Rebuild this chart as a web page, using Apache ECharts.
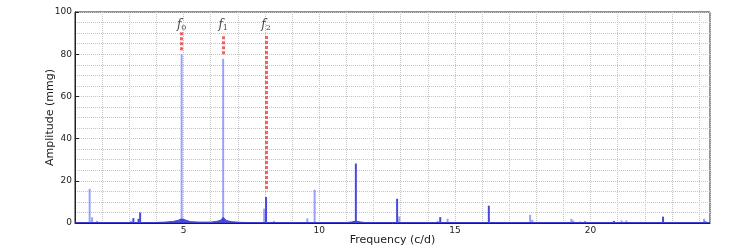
<!DOCTYPE html>
<html>
<head>
<meta charset="utf-8">
<script src="https://cdn.jsdelivr.net/npm/echarts@6/dist/echarts.min.js"></script>
<style>
    html, body { margin: 0; padding: 0; background: #fff; }
    #chart { width: 747px; height: 249px; }
</style>
</head>
<body>
<div id="chart"></div>
<script>
// light (lavender) peaks: frequency (c/d), amplitude (mmg)
const lightFreq = [1.54, 1.63, 1.81, 1.90, 3.06, 4.93, 6.46, 7.97, 8.33, 9.56, 9.83, 12.95, 14.37, 14.73, 17.77, 17.85, 19.29, 19.36, 21.14, 21.32, 24.18]
const lightAmp = [16.2, 2.7, 1.0, 0.6, 1.0, 80.0, 77.8, 6.8, 1.0, 2.2, 15.8, 3.1, 1.0, 2.0, 3.9, 1.5, 2.0, 1.2, 1.2, 1.2, 2.0]

// dark blue peaks
const darkFreq = [3.15, 3.34, 3.40, 8.04, 11.35, 12.87, 14.46, 16.25, 19.61, 19.80, 20.86, 22.67, 23.11, 24.23]
const darkAmp = [2.3, 2.0, 5.0, 12.3, 28.2, 11.5, 2.8, 8.2, 0.6, 0.8, 1.0, 3.0, 0.5, 0.8]

// low noise floor with the humps around f0, f1
const noiseFreq = [1.0, 3.9, 4.3, 4.6, 4.8, 4.88, 4.93, 4.98, 5.05, 5.25, 5.6, 6.0, 6.2, 6.35, 6.42, 6.46, 6.5, 6.58, 6.75, 7.1, 7.5, 11.0, 11.2, 11.35, 11.5, 11.7, 24.4]
const noiseAmp = [0.2, 0.2, 0.4, 0.7, 1.2, 1.8, 2.6, 1.8, 1.2, 0.6, 0.4, 0.4, 0.7, 1.2, 1.8, 2.6, 1.8, 1.2, 0.6, 0.3, 0.2, 0.2, 0.5, 0.9, 0.5, 0.2, 0.2]

// marked frequencies
const markNames = ['0', '1', '2']
const markFreq = [4.93, 6.46, 8.04]
const markTop = [90.4, 88.5, 88.6]
const markBottom = [81.0, 79.5, 15.0]
const markLabelY = 93.8

const zip = (a, b) => a.map((v, i) => [v, b[i]])

const chart = echarts.init(document.getElementById('chart'))

const font = 'DejaVu Sans'
const gridLine = { color: '#c4c4c4', type: 'dotted', width: 1 }

const option = {
    animation: false,
    grid: {
        left: 75, right: 37, top: 12, bottom: 26,
        outerBoundsMode: 'none',
        show: true,
        borderColor: '#222',
        borderWidth: 1
    },
    xAxis: {
        type: 'value',
        min: 1,
        max: 24.4,
        interval: 1,
        name: 'Frequency (c/d)',
        nameLocation: 'middle',
        nameGap: 12,
        nameMoveOverlap: false,
        nameTextStyle: { fontFamily: font, fontSize: 11, color: '#222' },
        axisLine: { lineStyle: { color: '#222' } },
        axisTick: { show: false },
        axisLabel: {
            fontFamily: font, fontSize: 9, color: '#222', margin: 3,
            showMinLabel: false, showMaxLabel: false,
            formatter: (v) => (Math.abs(v % 5) < 1e-6 ? String(v) : '')
        },
        splitLine: { show: true, lineStyle: gridLine }
    },
    yAxis: {
        type: 'value',
        min: 0,
        max: 100,
        interval: 20,
        name: 'Amplitude (mmg)',
        nameLocation: 'middle',
        nameGap: 19,
        nameMoveOverlap: false,
        nameTextStyle: { fontFamily: font, fontSize: 11, color: '#222' },
        axisLine: { show: true, lineStyle: { color: '#222' } },
        axisTick: { show: true, inside: true, length: 4, lineStyle: { color: '#222' } },
        axisLabel: { fontFamily: font, fontSize: 9, color: '#222', margin: 3 },
        splitLine: { show: true, lineStyle: gridLine },
        minorTick: { show: false, splitNumber: 4 },
        minorSplitLine: { show: true, lineStyle: gridLine }
    },
    series: [
        {
            type: 'line',
            data: zip(noiseFreq, noiseAmp),
            symbol: 'none',
            lineStyle: { color: '#3a3ad8', width: 1 },
            areaStyle: { color: '#3a3ad8', opacity: 0.9 },
            z: 3
        },
        {
            type: 'bar',
            data: zip(lightFreq, lightAmp),
            barWidth: 2,
            barGap: '-100%',
            itemStyle: { color: 'rgba(90, 100, 250, 0.6)' },
            z: 2
        },
        {
            type: 'bar',
            data: zip(darkFreq, darkAmp),
            barWidth: 2,
            barGap: '-100%',
            itemStyle: { color: '#4848e0' },
            z: 4
        },
        {
            type: 'scatter',
            symbolSize: 0,
            data: markFreq.map((f, i) => [f, markLabelY, markNames[i]]),
            label: {
                show: true,
                position: 'inside',
                formatter: (p) => '{f|f}{s|' + p.data[2] + '}',
                rich: {
                    f: { fontFamily: 'DejaVu Serif', fontStyle: 'italic', fontSize: 12, color: '#111' },
                    s: { fontFamily: 'DejaVu Serif', fontSize: 8, color: '#111', padding: [6, 0, 0, 0] }
                }
            },
            markLine: {
                symbol: 'none',
                silent: true,
                label: { show: false },
                lineStyle: { color: '#f04848', type: [3, 2], width: 3, opacity: 0.85 },
                data: markFreq.map((f, i) => [{ coord: [f, markTop[i]] }, { coord: [f, markBottom[i]] }])
            },
            z: 5
        }
    ]
}

chart.setOption(option)
</script>
</body>
</html>
